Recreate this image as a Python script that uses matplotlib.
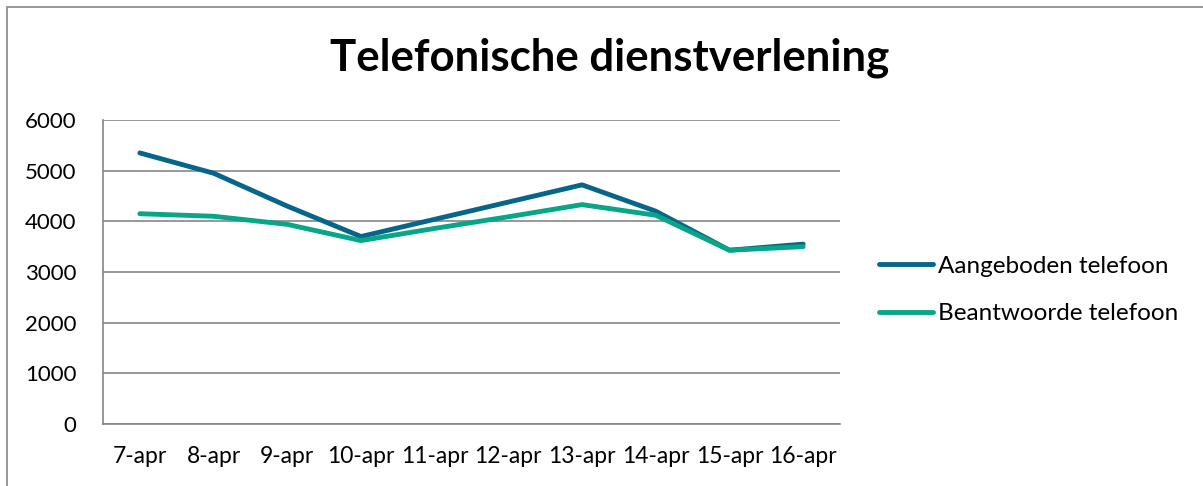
import matplotlib
matplotlib.use("Agg")
import matplotlib.pyplot as plt
from matplotlib.patches import Rectangle
from matplotlib.lines import Line2D

categories = ["7-apr", "8-apr", "9-apr", "10-apr", "11-apr", "12-apr",
              "13-apr", "14-apr", "15-apr", "16-apr"]
aangeboden = [5350, 4950, 4300, 3700, 4040, 4380, 4720, 4200, 3430, 3550]
beantwoord = [4150, 4100, 3940, 3620, 3860, 4090, 4330, 4120, 3430, 3500]
yticks = [0, 1000, 2000, 3000, 4000, 5000, 6000]
series_names = ["Aangeboden telefoon", "Beantwoorde telefoon"]

plt.rcParams['font.family'] = ['Lato', 'DejaVu Sans']

W, H = 1203, 486
fig = plt.figure(figsize=(W / 100, H / 100), dpi=100)

# outer chart border
fig.patches.append(Rectangle((7 / W, -0.05), 1.2, 1 - 7 / H + 0.05,
                             transform=fig.transFigure, fill=False,
                             edgecolor="#868686", linewidth=1.2, zorder=0))

left, right, top, bottom = 103, 840, 120, 424
ax = fig.add_axes([left / W, 1 - bottom / H, (right - left) / W, (bottom - top) / H])

blue = "#05658A"
green = "#06A686"
lw = 3.5
x = list(range(len(categories)))
ax.plot(x, aangeboden, color=blue, lw=lw, solid_capstyle="round", solid_joinstyle="round", zorder=3)
ax.plot(x, beantwoord, color=green, lw=lw, solid_capstyle="round", solid_joinstyle="round", zorder=3)

ax.set_xlim(-0.5, len(categories) - 0.5)
ax.set_ylim(0, 6000)
ax.set_yticks(yticks)
ax.set_yticklabels([str(v) for v in yticks], fontsize=16)
ax.set_xticks(x)
ax.set_xticklabels(categories, fontsize=16.5)
ax.tick_params(axis="x", length=0, pad=16)
ax.tick_params(axis="y", length=0, pad=19)
ax.grid(axis="y", color="#868686", lw=1.2)
ax.set_axisbelow(True)
for s in ["top", "right"]:
    ax.spines[s].set_visible(False)
for s in ["left", "bottom"]:
    ax.spines[s].set_color("#868686")
    ax.spines[s].set_linewidth(1.2)

fig.text(610 / W, 1 - 58 / H, "Telefonische dienstverlening", fontsize=31.5,
         fontweight="bold", ha="center", va="center")

handles = [Line2D([], [], color=blue, lw=lw, solid_capstyle="round"),
           Line2D([], [], color=green, lw=lw, solid_capstyle="round")]
fig.legend(handles, series_names, loc="center left",
           bbox_to_anchor=(872 / W, 1 - 290 / H), frameon=False, fontsize=17.5,
           handlelength=2.2, handletextpad=0.2, labelspacing=1.07,
           borderaxespad=0, borderpad=0.3)

fig.savefig("out.png", dpi=100)
